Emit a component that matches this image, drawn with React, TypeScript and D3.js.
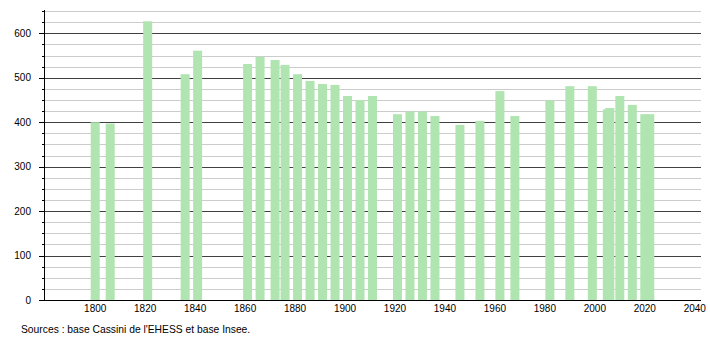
import React from "react";
import * as d3 from "d3";

const years = [1800, 1806, 1821, 1836, 1841, 1861, 1866, 1872, 1876, 1881, 1886, 1891, 1896, 1901, 1906, 1911, 1921, 1926, 1931, 1936, 1946, 1954, 1962, 1968, 1982, 1990, 1999, 2005, 2006, 2010, 2015, 2020, 2022];
const population = [400, 397, 627, 508, 561, 531, 547, 540, 529, 508, 493, 486, 484, 459, 450, 459, 418, 424, 424, 414, 394, 403, 470, 414, 449, 481, 481, 429, 432, 459, 439, 418, 418];
const xTicks = [1800, 1820, 1840, 1860, 1880, 1900, 1920, 1940, 1960, 1980, 2000, 2020, 2040];
const yTicks = [0, 100, 200, 300, 400, 500, 600];
const sourceText = "Sources : base Cassini de l'EHESS et base Insee.";

export default function App() {
  const W = 710, H = 340;
  const left = 44, right = 701, top = 11.1, bottom = 300;
  const x = d3.scaleLinear().domain([1779.5, 2042.5]).range([left, right]);
  const y = d3.scaleLinear().domain([0, 650]).range([bottom, top]);
  const grid = d3.range(25, 651, 25);
  const font = "'Liberation Sans', Arial, sans-serif";
  const halfW = 1.8;

  return (
    <svg width={W} height={H} style={{ position: "absolute", left: 0, top: 0, background: "#fff" }} fontFamily={font}>
      {grid.map((v) => (
        <line key={"g" + v} x1={left} x2={right} y1={Math.round(y(v)) + 0.5} y2={Math.round(y(v)) + 0.5}
          stroke={v % 100 === 0 ? "#404040" : "#cccccc"} strokeWidth={1} />
      ))}
      {years.map((yr, i) => (
        <rect key={"b" + yr} x={x(yr - halfW)} width={x(yr + halfW) - x(yr - halfW)}
          y={y(population[i])} height={y(0) - y(population[i])} fill="#b0e4b0" />
      ))}
      {grid.concat([0]).map((v) => (
        <line key={"t" + v} x1={v % 100 === 0 ? left - 5 : left - 2} x2={left}
          y1={Math.round(y(v)) + 0.5} y2={Math.round(y(v)) + 0.5} stroke="#000" />
      ))}
      <line x1={left + 0.5} x2={left + 0.5} y1={10} y2={bottom + 0.5} stroke="#000" />
      <line x1={left} x2={right} y1={bottom + 0.5} y2={bottom + 0.5} stroke="#000" />
      {yTicks.map((v) => (
        <text key={"yl" + v} x={31} y={y(v)} dy="0.35em" textAnchor="end" fontSize={10} fill="#000">{v}</text>
      ))}
      {xTicks.map((t) => (
        <text key={"xl" + t} x={x(t)} y={311.5} textAnchor="middle" fontSize={10} fill="#000">{t}</text>
      ))}
      <text x={21} y={333} fontSize={10.3} fill="#000">{sourceText}</text>
    </svg>
  );
}
